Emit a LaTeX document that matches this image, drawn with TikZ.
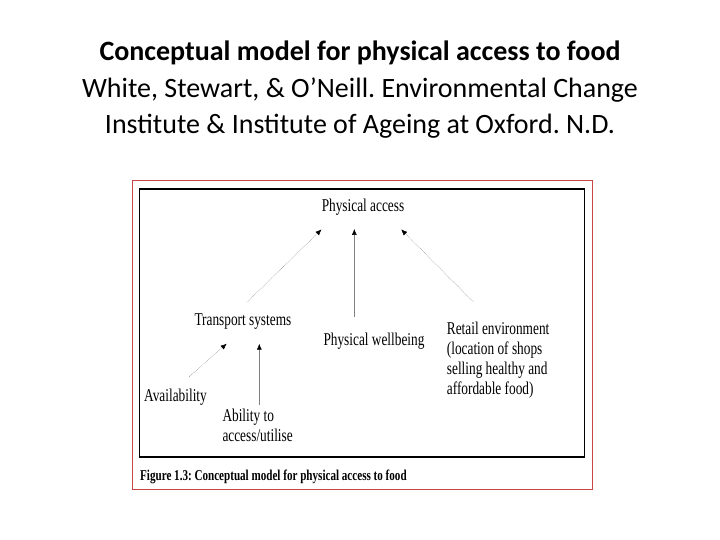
\documentclass[tikz,border=0pt]{standalone}
\usepackage{fontspec}
\setmainfont{Liberation Serif}
\newfontfamily\titlefont{Carlito}
\newfontfamily\figfont[FakeStretch=0.74]{Liberation Serif}
\newfontfamily\capfont[FakeStretch=0.74]{Liberation Serif}
\usetikzlibrary{arrows.meta}
\usetikzlibrary{positioning}
\definecolor{framered}{RGB}{200,70,70}
\frenchspacing

\begin{document}
\begin{tikzpicture}[x=1pt,y=-1pt,>={Latex[length=6pt,width=5pt,black]},
    fig node/.style={inner sep=0pt,align=left,font=\figfont\fontsize{18}{20.3}\selectfont},
    title node/.style={inner sep=0pt,font=\titlefont\fontsize{28}{36}\selectfont},
    dot arrow/.style={->,densely dotted,line width=0.5pt,draw=gray},
    solid arrow/.style={->,line width=0.6pt,draw=gray}]
  \useasboundingbox (0,0) rectangle (720,540);
  % heading
  \node[title node,anchor=base] (heading) at (360,61) {\bfseries Conceptual model for physical access to food};
  \node[title node,anchor=base] (authors) at (360,98) {White, Stewart, \& O’Neill. Environmental Change};
  \node[title node,anchor=base] (institute) at (360,134) {Institute \& Institute of Ageing at Oxford. N.D.};
  % figure frames
  \draw[framered,line width=0.8pt] (132.5,180.5) rectangle (592.5,489.5);
  \draw[line width=1.5pt] (139.5,189) rectangle (584.5,457);
  % factors
  \node[fig node,anchor=base] (access) at (363,211.7) {Physical access};
  \node[fig node,anchor=base west] (transport) at (194.3,325.7) {Transport systems};
  \node[fig node,anchor=base west] (wellbeing) at (323.3,345.7) {Physical wellbeing};
  \node[fig node,anchor=base west] (retail) at (446.7,394.9) {Retail environment\\(location of shops\\selling healthy and\\affordable food)};
  \node[fig node,anchor=base west] (avail) at (144,401.7) {Availability};
  \node[fig node,anchor=base west] (ability) at (222.3,441.7) {Ability to\\access/utilise};
  % caption
  \node[inner sep=0pt,anchor=base west,font=\capfont\bfseries\fontsize{15}{17}\selectfont] (caption) at (140,480) {Figure 1.3: Conceptual model for physical access to food};
  % links
  \draw[dot arrow] ([xshift=4pt,yshift=11.5pt]transport.north) -- ([yshift=-13.6pt]access.south west);
  \draw[solid arrow] ([xshift=31pt,yshift=16pt]wellbeing.north west) -- ([xshift=-8.7pt,yshift=-13.1pt]access.south);
  \draw[dot arrow] ([xshift=26.6pt,yshift=19.5pt]retail.north west) -- ([xshift=-3.3pt,yshift=-13.6pt]access.south east);
  \draw[dot arrow] ([xshift=45.3pt,yshift=12.3pt]avail.north west) -- ([xshift=32.4pt,yshift=-13.9pt]transport.south west);
  \draw[solid arrow] ([xshift=37pt,yshift=3.9pt]ability.north west) -- ([xshift=65pt,yshift=-13.9pt]transport.south west);
\end{tikzpicture}
\end{document}
